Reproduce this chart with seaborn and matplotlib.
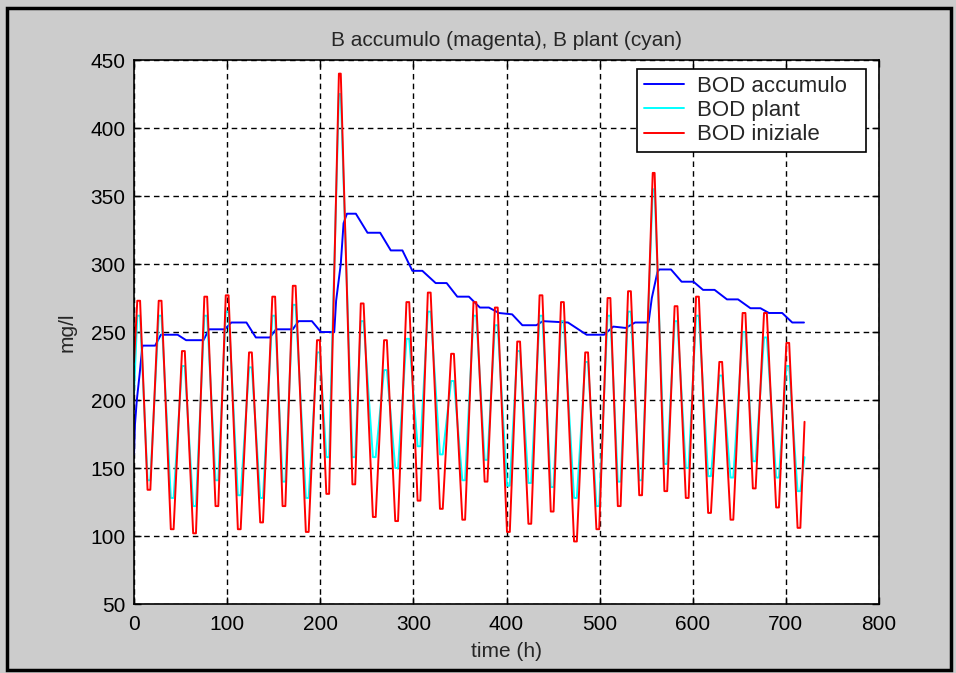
import matplotlib
matplotlib.use('Agg')
import matplotlib.pyplot as plt
from matplotlib.patches import Rectangle
import seaborn as sns
import pandas as pd

# BOD iniziale / BOD plant (h, mg/l).
# Each daily peak / trough is given as the two ends of its rounded top.
t_wave = [0,
          3.5, 6.5, 14.5, 17.5, 26.5, 29.5, 39.5, 42.5, 51.5, 54.5, 63.5, 66.5,
          75.5, 78.5, 87.5, 90.5, 98.5, 101.5, 111.5, 114.5, 123.5, 126.5, 135.5, 138.5,
          148.5, 151.5, 159.5, 162.5, 170.5, 173.5, 184.5, 187.5, 196.5, 199.5, 206.5, 209.5,
          220, 222, 234.5, 237.5, 243.5, 246.5, 256.5, 259.5, 268.5, 271.5, 280.5, 283.5,
          292.5, 295.5, 304.5, 307.5, 315.5, 318.5, 328.5, 331.5, 340.5, 343.5, 352.5, 355.5,
          364.5, 367.5, 376.5, 379.5, 387.5, 390.5, 400.5, 403.5, 411.5, 414.5, 423.5, 426.5,
          435.5, 438.5, 447.5, 450.5, 458.5, 461.5, 472.5, 475.5, 484.5, 487.5, 496.5, 499.5,
          508.5, 511.5, 519.5, 522.5, 530.5, 533.5, 542.5, 545.5, 557, 559, 569.5, 572.5,
          580.5, 583.5, 592.5, 595.5, 603.5, 606.5, 616.5, 619.5, 628.5, 631.5, 640.5, 643.5,
          653.5, 656.5, 664.5, 667.5, 676.5, 679.5, 689.5, 692.5, 700.5, 703.5, 712.5, 715.5,
          720]
bod_iniziale = [228,
                273, 273, 134, 134, 273, 273, 105, 105, 236, 236, 102, 102,
                276, 276, 122, 122, 277, 277, 105, 105, 235, 235, 110, 110,
                276, 276, 122, 122, 284, 284, 103, 103, 244, 244, 131, 131,
                440, 440, 138, 138, 271, 271, 114, 114, 244, 244, 111, 111,
                272, 272, 126, 126, 279, 279, 120, 120, 234, 234, 112, 112,
                272, 272, 140, 140, 268, 268, 103, 103, 243, 243, 109, 109,
                277, 277, 118, 118, 272, 272, 96, 96, 235, 235, 105, 105,
                275, 275, 122, 122, 280, 280, 130, 130, 367, 367, 133, 133,
                269, 269, 128, 128, 276, 276, 117, 117, 228, 228, 112, 112,
                264, 264, 135, 135, 264, 264, 121, 121, 242, 242, 106, 106,
                184]
bod_plant = [205,
             262, 262, 141, 141, 262, 262, 128, 128, 225, 225, 122, 122,
             262, 262, 141, 141, 265, 265, 130, 130, 224, 224, 128, 128,
             262, 262, 140, 140, 270, 270, 128, 128, 235, 235, 158, 158,
             425, 425, 158, 158, 258, 258, 158, 158, 222, 222, 150, 150,
             245, 245, 166, 166, 265, 265, 160, 160, 214, 214, 141, 141,
             262, 262, 156, 156, 255, 255, 137, 137, 236, 236, 139, 139,
             262, 262, 136, 136, 258, 258, 128, 128, 228, 228, 122, 122,
             262, 262, 140, 140, 265, 265, 141, 141, 355, 355, 153, 153,
             258, 258, 150, 150, 262, 262, 144, 144, 218, 218, 143, 143,
             250, 250, 155, 155, 246, 246, 143, 143, 225, 225, 133, 133,
             158]

# BOD accumulo: step-like running value
t_acc = [0, 1, 3, 6, 9, 22.7, 28.8, 46.8, 55.9, 74.6, 80.4, 97.3, 104.5, 120.7, 130.8, 146,
         152.4, 170.5, 176.6, 191, 200.7, 215, 217, 222, 225, 228.6, 238.2, 250.7, 264.3,
         275.7, 288.2, 298.9, 309.6, 323.9, 335.7, 347.1, 359.6, 371.4, 381.1, 391.8, 406,
         417, 432, 439, 466, 486, 504.7, 514.7, 528, 538, 552.5, 556, 562, 564, 576.6,
         588, 600.7, 611, 623.4, 636.7, 648.6, 661.9, 672.7, 681.7, 696, 706.8, 719.4]
bod_accumulo = [160, 182, 200, 219, 240, 240, 248, 248, 244, 244, 252, 252, 257, 257, 246, 246,
                252, 252, 258, 258, 250, 250, 273, 300, 330, 337, 337, 323, 323,
                310, 310, 295, 295, 286, 286, 276, 276, 268, 268, 264, 263,
                255, 255, 258, 257, 248, 248, 254, 253, 257, 257, 275, 294, 296, 296,
                287, 287, 281, 281, 274, 274, 267.5, 267.5, 264, 264, 257, 257]

x_ticks = [0, 100, 200, 300, 400, 500, 600, 700, 800]
y_ticks = [50, 100, 150, 200, 250, 300, 350, 400, 450]

wave_df = pd.DataFrame({'t': t_wave, 'iniziale': bod_iniziale, 'plant': bod_plant})
acc_df = pd.DataFrame({'t': t_acc, 'accumulo': bod_accumulo})

sns.set_theme(style='ticks')
plt.rcParams['font.family'] = ['Liberation Sans', 'DejaVu Sans']

fig = plt.figure(figsize=(9.56, 6.73), dpi=100, facecolor='#cccccc')
ax = fig.add_axes([0.1402, 0.1025, 0.7793, 0.8083])
ax.set_facecolor('white')

sns.lineplot(data=acc_df, x='t', y='accumulo', color='#0000ff', lw=1.4,
             label='BOD accumulo  ', estimator=None, ax=ax)
sns.lineplot(data=wave_df, x='t', y='plant', color='#00ffff', lw=1.4,
             label='BOD plant', estimator=None, ax=ax)
sns.lineplot(data=wave_df, x='t', y='iniziale', color='#ff0000', lw=1.4,
             label='BOD iniziale', estimator=None, ax=ax)

ax.set_xlim(0, 800)
ax.set_ylim(50, 450)
ax.set_xticks(x_ticks)
ax.set_yticks(y_ticks)
ax.grid(True, color='black', linestyle=(0, (4, 3)), linewidth=1)
ax.tick_params(direction='in', length=5, width=1, labelsize=15, colors='black')
ax.tick_params(axis='x', pad=8)
ax.tick_params(axis='y', pad=6)
ax.tick_params(top=True, right=True)
for s in ax.spines.values():
    s.set_color('black')
    s.set_linewidth(1.2)

ax.set_title('B accumulo (magenta), B plant (cyan)', fontsize=15, pad=10)
ax.set_xlabel('time (h)', fontsize=15, labelpad=6)
ax.set_ylabel('mg/l', fontsize=15, labelpad=10)

leg = ax.legend(loc='upper right', bbox_to_anchor=(0.9826, 0.9835), borderaxespad=0,
                fontsize=16, frameon=True, fancybox=False, framealpha=1,
                edgecolor='black', handlelength=1.8, handletextpad=0.6,
                labelspacing=0.15, borderpad=0.3)
leg.get_frame().set_linewidth(1.2)

fig.add_artist(Rectangle((7 / 956, 3 / 673), 944 / 956, 662 / 673, transform=fig.transFigure,
                         fill=False, edgecolor='black', linewidth=2.5))

fig.savefig('out.png', dpi=100, facecolor=fig.get_facecolor())
